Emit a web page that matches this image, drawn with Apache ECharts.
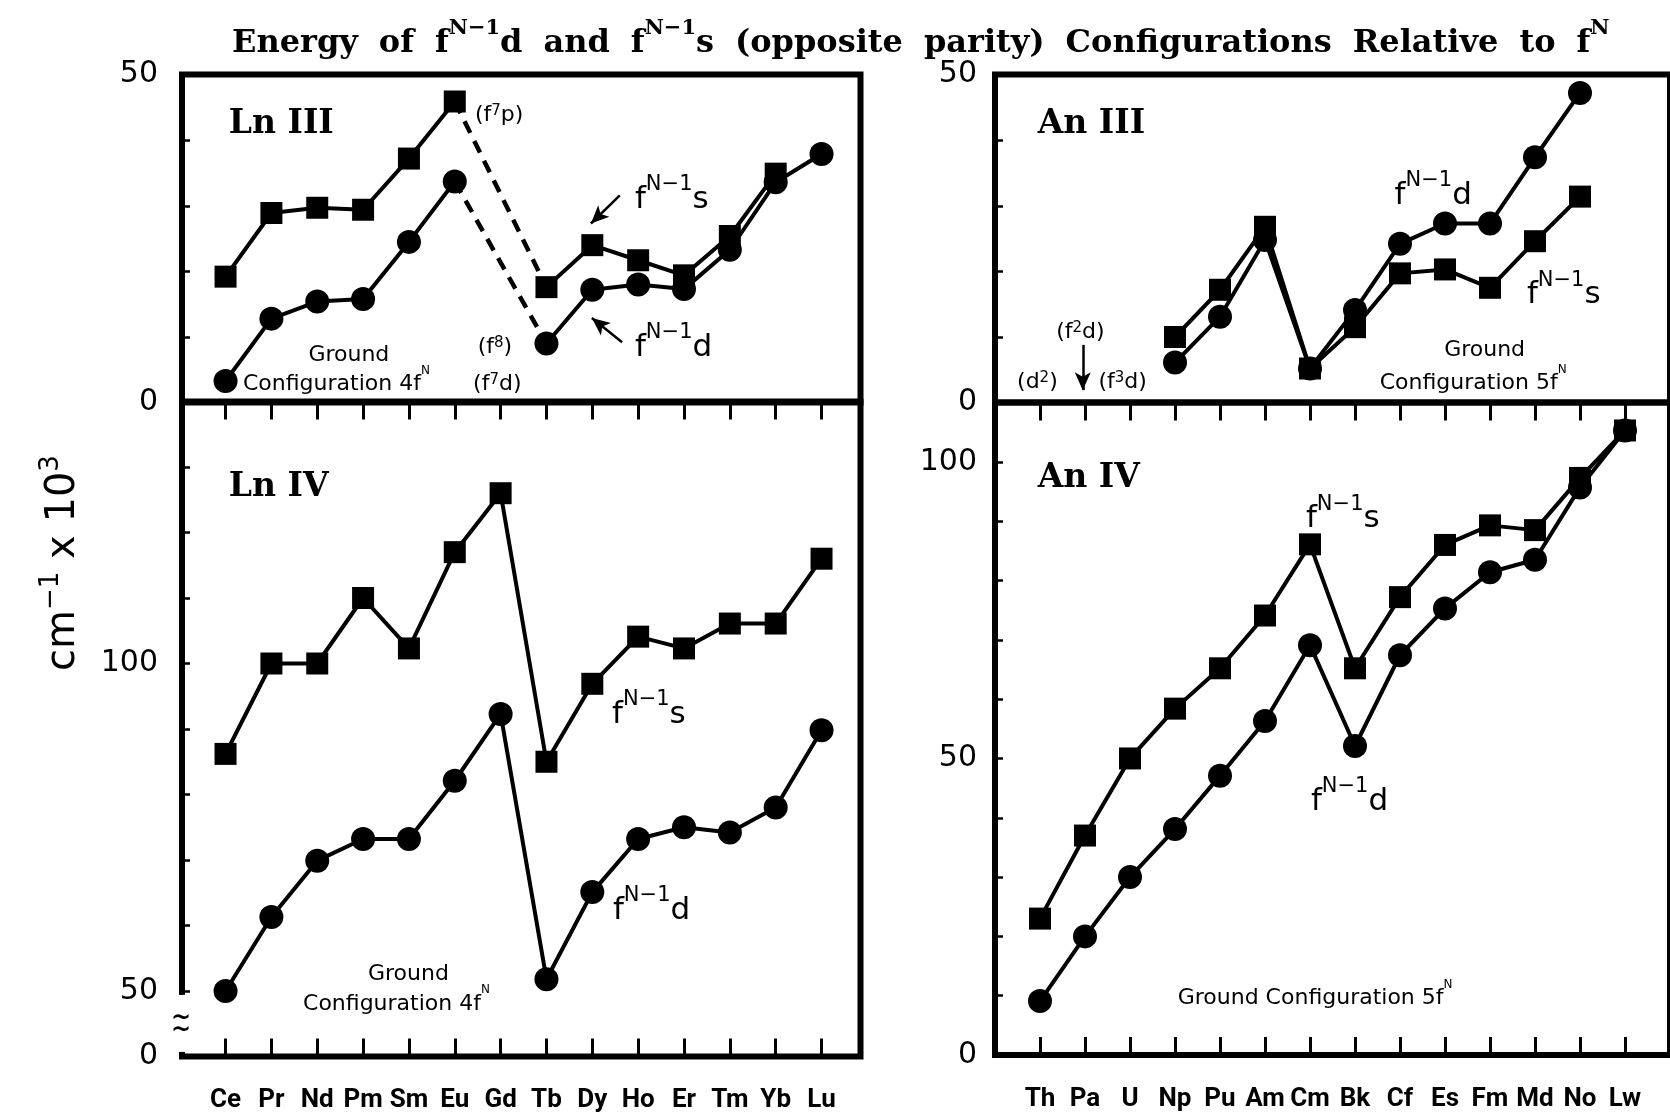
<!DOCTYPE html>
<html>
<head>
<meta charset="utf-8">
<script src="https://cdn.jsdelivr.net/npm/echarts@6/dist/echarts.min.js"></script>
<style>
  html, body { margin: 0; padding: 0; background: #fff; }
  #chart { width: 1670px; height: 1117px; }
</style>
</head>
<body>
<div id="chart"></div>
<script>
// Element symbols along the two x axes
const lanthanides = ['Ce', 'Pr', 'Nd', 'Pm', 'Sm', 'Eu', 'Gd', 'Tb', 'Dy', 'Ho', 'Er', 'Tm', 'Yb', 'Lu'];
const actinides = ['Th', 'Pa', 'U', 'Np', 'Pu', 'Am', 'Cm', 'Bk', 'Cf', 'Es', 'Fm', 'Md', 'No', 'Lw'];

// Configuration energies above f^N, in 1000 cm^-1 (null = no level plotted)
const lnIII_s = [19.2, 28.9, 29.7, 29.4, 37.2, 45.9, null, 17.6, 24.0, 21.7, 19.4, 25.4, 34.9, null];
const lnIII_d = [3.3, 12.8, 15.4, 15.8, 24.5, 33.7, null, 9.0, 17.2, 18.0, 17.3, 23.3, 33.6, 37.9];
const lnIV_s = [86.2, 100.0, 100.0, 110.0, 102.3, 117.0, 126.0, 85.0, 96.9, 104.1, 102.3, 106.1, 106.1, 116.0];
const lnIV_d = [50.0, 61.3, 69.9, 73.2, 73.2, 82.1, 92.3, 51.8, 65.1, 73.2, 75.0, 74.2, 78.0, 89.8];
const anIII_s = [null, null, null, 10.0, 17.2, 26.8, 5.2, 11.5, 19.7, 20.3, 17.5, 24.6, 31.4, null];
const anIII_d = [null, null, null, 6.1, 13.1, 24.8, 5.2, 14.1, 24.2, 27.3, 27.3, 37.4, 47.2, null];
const anIV_s = [23.0, 37.0, 50.0, 58.4, 65.2, 74.1, 86.1, 65.2, 77.2, 86.0, 89.3, 88.5, 97.3, 105.3];
const anIV_d = [9.1, 20.0, 30.0, 38.1, 47.1, 56.3, 69.1, 52.1, 67.4, 75.3, 81.4, 83.5, 95.7, 105.3];

// Labelled values on the y axes
const upperYTicks = [0, 50];
const lnIVYTicks = [40, 50, 100];        // 40 sits at the axis break
const lnIVYTickText = ['0', '50', '100'];
const anIVYTicks = [0, 50, 100];

const SANS = "'DejaVu Sans', 'Noto Sans', sans-serif";
const SERIF = "'DejaVu Serif', 'Liberation Serif', serif";
const ELEM_FONT = "Roboto, 'DejaVu Sans', sans-serif";
const INK = '#000';

const positions = lanthanides.map((_, i) => i);
const pairs = values => values.map((v, i) => [i, v == null ? '-' : v]);

const chart = echarts.init(document.getElementById('chart'), null, { renderer: 'canvas' });

const gridBox = { show: true, borderColor: INK, borderWidth: 6, backgroundColor: 'transparent' };

function xAxis(gridIndex, min, max, names, mode) {
  return {
    type: 'value', gridIndex, min, max,
    position: mode === 'top' ? 'top' : 'bottom',
    axisLine: { show: false, onZero: false },
    splitLine: { show: false },
    axisTick: { show: mode !== 'none', inside: true, length: 18, customValues: positions,
                lineStyle: { color: INK, width: 3 } },
    axisLabel: { show: mode === 'labels', customValues: positions, margin: 31,
                 formatter: v => names[Math.round(v)] || '',
                 fontFamily: ELEM_FONT, fontWeight: 'bold', fontSize: 26, color: INK }
  };
}

function yAxis(gridIndex, min, max, labelValues, labelText, margin) {
  return {
    type: 'value', gridIndex, min, max, interval: 10,
    axisLine: { show: false, onZero: false },
    splitLine: { show: false },
    axisTick: { show: true, inside: true, length: 8, lineStyle: { color: INK, width: 2.5 } },
    axisLabel: {
      customValues: labelValues, margin,
      formatter: v => labelText ? labelText[labelValues.indexOf(v)] : String(v),
      fontFamily: SANS, fontSize: 30, color: INK
    }
  };
}

function line(name, xi, yi, values, symbol, size, z) {
  return {
    name, type: 'line', xAxisIndex: xi, yAxisIndex: yi, data: pairs(values),
    symbol, symbolSize: size, showSymbol: true, connectNulls: false,
    lineStyle: { color: INK, width: 4 }, itemStyle: { color: INK },
    z, silent: true, animation: false
  };
}

function dashedLink(xi, yi, values, from, to) {
  return {
    type: 'line', xAxisIndex: xi, yAxisIndex: yi,
    data: [[from, values[from]], [to, values[to]]],
    symbol: 'none', lineStyle: { color: INK, width: 4.5, type: [13, 9] },
    z: 1, silent: true, animation: false
  };
}

function arrows(list) {
  return {
    silent: true, animation: false, symbol: ['none', 'arrow'], symbolSize: [12, 18],
    lineStyle: { color: INK, width: 2.5, type: 'solid' }, itemStyle: { color: INK },
    label: { show: false },
    data: list.map(a => [{ coord: a[0] }, { coord: a[1] }])
  };
}

const series = [
  line('Ln III fN-1d', 0, 0, lnIII_d, 'circle', 24, 3),
  line('Ln III fN-1s', 0, 0, lnIII_s, 'rect', 22, 4),
  dashedLink(0, 0, lnIII_d, 5, 7),
  dashedLink(0, 0, lnIII_s, 5, 7),
  line('Ln IV fN-1d', 1, 1, lnIV_d, 'circle', 24, 3),
  line('Ln IV fN-1s', 1, 1, lnIV_s, 'rect', 22, 4),
  line('An III fN-1d', 3, 2, anIII_d, 'circle', 24, 3),
  line('An III fN-1s', 3, 2, anIII_s, 'rect', 22, 4),
  line('An IV fN-1d', 4, 3, anIV_d, 'circle', 24, 3),
  line('An IV fN-1s', 4, 3, anIV_s, 'rect', 22, 4)
];
const S = { lnIII: 0, lnIV: 4, anIII: 6, anIV: 8 };

// pointer arrows (data coordinates of each panel)
series[S.lnIII].markLine = arrows([
  [[8.60, 31.6], [7.97, 27.3]],
  [[8.65, 9.2], [7.99, 12.9]]
]);
series[S.anIII].markLine = arrows([
  [[0.95, 8.8], [0.95, 1.9]]
]);

// title: words joined by widened spaces
const titleWords = ['{a|Energy}', '{a|of}', '{a|f}{s|N\u22121}{a|d}', '{a|and}', '{a|f}{s|N\u22121}{a|s}',
  '{a|(opposite}', '{a|parity)}', '{a|Configurations}', '{a|Relative}', '{a|to}', '{a|f}{s|N}'];

const option = {
  animation: false,
  backgroundColor: '#fff',
  title: {
    text: titleWords.join('{g| }'),
    left: 232, top: 18, padding: 0,
    textStyle: {
      rich: {
        a: { fontFamily: SERIF, fontWeight: 'bold', fontSize: 32, lineHeight: 41.5, verticalAlign: 'bottom', color: INK },
        g: { fontFamily: SERIF, fontWeight: 'bold', fontSize: 32, lineHeight: 41.5, verticalAlign: 'bottom', width: 21, color: INK },
        s: { fontFamily: SERIF, fontWeight: 'bold', fontSize: 21, lineHeight: 21, verticalAlign: 'top', color: INK }
      }
    }
  },
  grid: [
    Object.assign({ left: 182, top: 74.6, width: 678.5, height: 328 }, gridBox),
    Object.assign({ left: 182, top: 401.5, width: 678.5, height: 655 }, gridBox),
    Object.assign({ left: 995, top: 74.6, width: 684, height: 328 }, gridBox),
    Object.assign({ left: 995, top: 402.6, width: 684, height: 652.4 }, gridBox)
  ],
  xAxis: [
    xAxis(0, -0.95, 13.85, lanthanides, 'none'),
    xAxis(1, -0.95, 13.85, lanthanides, 'labels'),
    xAxis(1, -0.95, 13.85, lanthanides, 'top'),
    xAxis(2, -1, 14, actinides, 'none'),
    xAxis(3, -1, 14, actinides, 'labels'),
    xAxis(3, -1, 14, actinides, 'top')
  ],
  yAxis: [
    yAxis(0, 0, 50, upperYTicks, null, 24),
    yAxis(1, 40, 140, lnIVYTicks, lnIVYTickText, 24),
    yAxis(2, 0, 50, upperYTicks, null, 18),
    yAxis(3, 0, 110, anIVYTicks, null, 18)
  ],
  series
};

chart.setOption(option);

// ---- text annotations, anchored in each panel's data space ----
function richStyle(base, sup, lift, family, weight) {
  return {
    b: { fontSize: base, lineHeight: lift + (base + sup) / 2, verticalAlign: 'bottom',
         fontFamily: family, fontWeight: weight, fill: INK },
    p: { fontSize: sup, lineHeight: sup, verticalAlign: 'top',
         fontFamily: family, fontWeight: weight, fill: INK }
  };
}
const STYLES = {
  panel: { plain: true, fontSize: 33, fontFamily: SERIF, fontWeight: 'bold', v: 'middle' },
  ground: { plain: true, fontSize: 22, fontFamily: SANS, fontWeight: 'normal', v: 'middle' },
  flab: { rich: richStyle(31, 21, 15, SANS, 'normal'), v: 'bottom' },
  small: { rich: richStyle(22, 15, 4, SANS, 'normal'), v: 'bottom' },
  config: { rich: richStyle(22, 12, 14, SANS, 'normal'), v: 'bottom' }
};
const fS = '{b|f}{p|N\u22121}{b|s}';
const fD = '{b|f}{p|N\u22121}{b|d}';

const notes = [
  // Ln III
  { s: S.lnIII, at: [0.07, 42.4], text: 'Ln III', k: 'panel' },
  { s: S.lnIII, at: [5.44, 42.1], text: '{b|(f}{p|7}{b|p)}', k: 'small' },
  { s: S.lnIII, at: [8.93, 28.6], text: fS, k: 'flab' },
  { s: S.lnIII, at: [8.93, 6.0], text: fD, k: 'flab' },
  { s: S.lnIII, at: [5.50, 6.75], text: '{b|(f}{p|8}{b|)}', k: 'small' },
  { s: S.lnIII, at: [2.69, 7.25], text: 'Ground', k: 'ground', align: 'center' },
  { s: S.lnIII, at: [0.38, 1.08], text: '{b|Configuration 4f}{p|N}', k: 'config' },
  { s: S.lnIII, at: [5.40, 1.08], text: '{b|(f}{p|7}{b|d)}', k: 'small' },
  // An III
  { s: S.anIII, at: [-0.05, 42.4], text: 'An III', k: 'panel' },
  { s: S.anIII, at: [7.88, 29.2], text: fD, k: 'flab' },
  { s: S.anIII, at: [10.82, 14.0], text: fS, k: 'flab' },
  { s: S.anIII, at: [9.88, 7.9], text: 'Ground', k: 'ground', align: 'center' },
  { s: S.anIII, at: [7.55, 1.24], text: '{b|Configuration 5f}{p|N}', k: 'config' },
  { s: S.anIII, at: [0.36, 9.0], text: '{b|(f}{p|2}{b|d)}', k: 'small' },
  { s: S.anIII, at: [-0.51, 1.4], text: '{b|(d}{p|2}{b|)}', k: 'small' },
  { s: S.anIII, at: [1.30, 1.4], text: '{b|(f}{p|3}{b|d)}', k: 'small' },
  // Ln IV
  { s: S.lnIV, at: [0.07, 126.9], text: 'Ln IV', k: 'panel' },
  { s: S.lnIV, at: [8.43, 89.8], text: fS, k: 'flab' },
  { s: S.lnIV, at: [8.45, 59.9], text: fD, k: 'flab' },
  { s: S.lnIV, at: [3.99, 52.5], text: 'Ground', k: 'ground', align: 'center' },
  { s: S.lnIV, at: [1.69, 46.3], text: '{b|Configuration 4f}{p|N}', k: 'config' },
  // An IV
  { s: S.anIV, at: [-0.05, 97.3], text: 'An IV', k: 'panel' },
  { s: S.anIV, at: [5.91, 87.7], text: fS, k: 'flab' },
  { s: S.anIV, at: [6.02, 40.1], text: fD, k: 'flab' },
  { s: S.anIV, at: [3.06, 7.67], text: '{b|Ground Configuration 5f}{p|N}', k: 'config' }
];

const graphics = notes.map(n => {
  const [x, y] = chart.convertToPixel({ seriesIndex: n.s }, n.at);
  const st = STYLES[n.k];
  const style = { text: n.text, fill: INK, align: n.align || 'left', verticalAlign: st.v };
  if (st.plain) {
    Object.assign(style, { fontSize: st.fontSize, fontFamily: st.fontFamily, fontWeight: st.fontWeight });
  } else {
    style.rich = st.rich;
    style.fontFamily = SANS;
  }
  return { type: 'text', x, y, z: 100, silent: true, style };
});

// axis break on the Ln IV energy scale, between 50 and the 0 baseline
const breakTop = chart.convertToPixel({ seriesIndex: S.lnIV }, [-0.95, 49.4]);
const breakBottom = chart.convertToPixel({ seriesIndex: S.lnIV }, [-0.95, 40.7]);
graphics.push({
  type: 'rect', z: 90, silent: true,
  shape: { x: breakTop[0] - 7, y: breakTop[1], width: 14, height: breakBottom[1] - breakTop[1] },
  style: { fill: '#fff' }
});
const breakMid = chart.convertToPixel({ seriesIndex: S.lnIV }, [-0.95, 44.8]);
graphics.push({
  type: 'text', x: breakMid[0] - 1, y: breakMid[1], z: 100, silent: true,
  style: { text: '~\n~', fill: INK, align: 'center', verticalAlign: 'middle',
           fontFamily: SANS, fontWeight: 'bold', fontSize: 24, lineHeight: 12 }
});

// shared y-axis title
graphics.push({
  type: 'text', x: 61, y: 563, rotation: Math.PI / 2, z: 100, silent: true,
  style: {
    text: '{b|cm}{p|\u22121}{b| x 10}{p|3}', align: 'center', verticalAlign: 'middle', fill: INK,
    rich: richStyle(40, 26, 13, SANS, 'normal')
  }
});

chart.setOption({ graphic: graphics });
</script>
</body>
</html>
